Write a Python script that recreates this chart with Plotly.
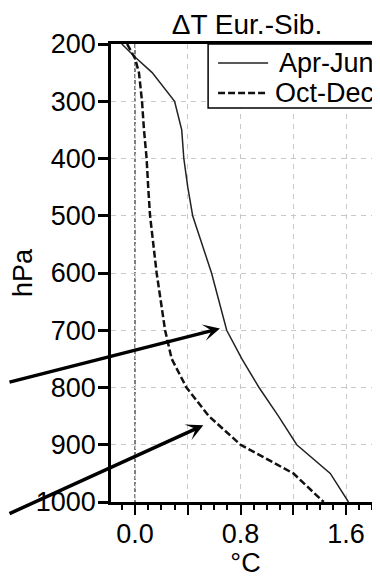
import plotly.graph_objects as go

# Data
pressure = [200, 225, 250, 300, 350, 400, 450, 500, 600, 700, 750, 800, 850, 900, 950, 1000]
apr_jun = [-0.10, 0.01, 0.13, 0.30, 0.354, 0.37, 0.40, 0.437, 0.58, 0.695, 0.81, 0.94, 1.087, 1.226, 1.48, 1.618]
oct_dec = [-0.06, 0.00, 0.03, 0.053, 0.068, 0.088, 0.10, 0.114, 0.164, 0.228, 0.278, 0.39, 0.56, 0.80, 1.20, 1.43]
series_names = ["Apr-Jun", "Oct-Dec"]

x_tickvals = [0.0, 0.4, 0.8, 1.2, 1.6]
x_ticktext = ["0.0", "", "0.8", "", "1.6"]
y_tickvals = [200, 300, 400, 500, 600, 700, 800, 900, 1000]

FONT = "Liberation Sans, Arial, Helvetica, sans-serif"

# The page body has an 8px default margin, so the figure is sized to fill the rest of the window
W, H = 372, 570

fig = go.Figure()
fig.add_trace(go.Scatter(x=apr_jun, y=pressure, mode="lines", name=series_names[0],
                         line=dict(color="#222222", width=1.5), showlegend=False))
fig.add_trace(go.Scatter(x=oct_dec, y=pressure, mode="lines", name=series_names[1],
                         line=dict(color="#111111", width=2.5, dash="7px,3px"), showlegend=False))

# zero reference line
fig.add_shape(type="line", xref="x", yref="y", x0=0, x1=0, y0=200, y1=1000,
              line=dict(color="#555555", width=1.5, dash="4px,2px"), layer="below")

# manual legend (box, samples, labels)
fig.add_shape(type="rect", xref="paper", yref="paper", x0=0.361, x1=1.02, y0=0.860, y1=1.0,
              line=dict(color="black", width=1.5), fillcolor="white", layer="above")
fig.add_shape(type="line", xref="paper", yref="paper", x0=0.398, x1=0.584, y0=0.9585, y1=0.9585,
              line=dict(color="#222222", width=1.5))
fig.add_shape(type="line", xref="paper", yref="paper", x0=0.398, x1=0.584, y0=0.893, y1=0.893,
              line=dict(color="#111111", width=2.5, dash="7px,3px"))
fig.add_annotation(xref="paper", yref="paper", x=0.984, y=0.9585, text=series_names[0],
                   showarrow=False, xanchor="right", yanchor="middle",
                   font=dict(family=FONT, size=27, color="black"))
fig.add_annotation(xref="paper", yref="paper", x=0.984, y=0.893, text=series_names[1],
                   showarrow=False, xanchor="right", yanchor="middle",
                   font=dict(family=FONT, size=27, color="black"))

# arrows
fig.add_annotation(x=0.644, y=697, xref="x", yref="y", text="", showarrow=True,
                   ax=-230, ay=54, axref="pixel", ayref="pixel",
                   arrowhead=3, arrowsize=0.8, arrowwidth=3.5, arrowcolor="black")
fig.add_annotation(x=0.518, y=866, xref="x", yref="y", text="", showarrow=True,
                   ax=-213, ay=89, axref="pixel", ayref="pixel",
                   arrowhead=3, arrowsize=0.8, arrowwidth=3.5, arrowcolor="black")

fig.update_layout(
    width=W, height=H,
    margin=dict(l=103, r=0, t=36, b=76, autoexpand=False),
    paper_bgcolor="white", plot_bgcolor="white",
    font=dict(family=FONT, size=27, color="black"),
    title=dict(text="ΔT Eur.-Sib.", x=239 / W, xanchor="center", y=1 - 16 / H,
               yref="container", yanchor="middle", font=dict(family=FONT, size=28, color="black")),
    showlegend=False,
)
fig.update_xaxes(
    automargin=False,
    range=[-0.182, 1.857], tickvals=x_tickvals, ticktext=x_ticktext,
    ticks="outside", ticklen=10, tickwidth=2, tickcolor="black",
    minor=dict(dtick=0.1, tick0=0, ticklen=5, tickwidth=1.5, tickcolor="black", ticks="outside", showgrid=False),
    showline=True, linecolor="black", linewidth=2.5, mirror=True,
    showgrid=True, gridcolor="#c8c8c8", gridwidth=1, griddash="5px,5px",
    zeroline=False, ticklabelstandoff=-4,
    title=dict(text="°C", font=dict(family=FONT, size=27), standoff=2),
    tickfont=dict(family=FONT, size=27),
)
fig.update_yaxes(
    automargin=False,
    range=[1000, 200], tickvals=y_tickvals,
    ticks="outside", ticklen=10, tickwidth=2.5, tickcolor="black",
    showline=True, linecolor="black", linewidth=2.5, mirror=False,
    showgrid=True, gridcolor="#c8c8c8", gridwidth=1, griddash="5px,5px",
    zeroline=False, ticklabelstandoff=-3,
    title=dict(text="hPa", font=dict(family=FONT, size=27), standoff=10),
    tickfont=dict(family=FONT, size=27),
)

fig.write_html("out.html")
